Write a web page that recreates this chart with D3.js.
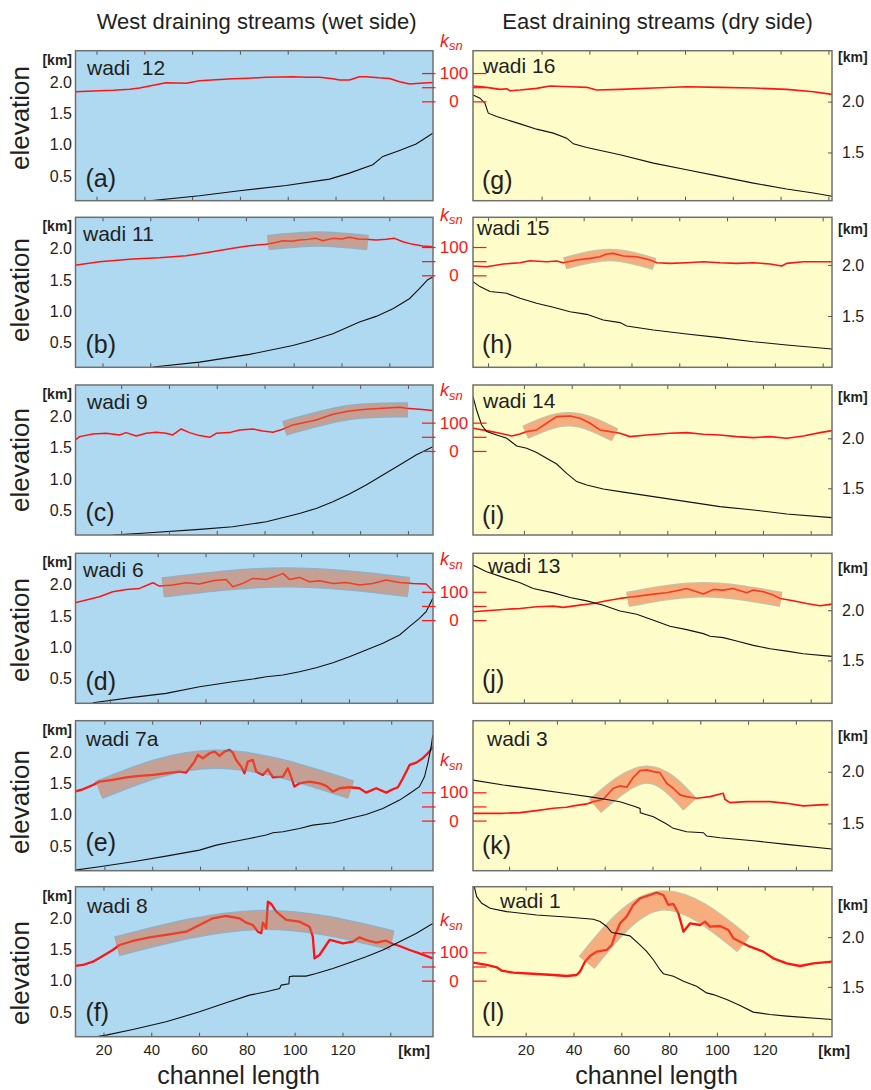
<!DOCTYPE html>
<html>
<head>
<meta charset="utf-8">
<script src="https://cdn.jsdelivr.net/npm/d3@7"></script>
<style>
  body { margin: 0; background: #fff; }
  text { font-family: "Liberation Sans", Arial, Helvetica, sans-serif; }
</style>
</head>
<body>
<svg id="chart" width="871" height="1090"></svg>
<script>
// ---- values: [channel length km, value] ----
var panelLetters = ["a", "b", "c", "d", "e", "f", "g", "h", "i", "j", "k", "l"];
var wadiNames = ["wadi  12", "wadi 11", "wadi 9", "wadi 6", "wadi 7a", "wadi 8",
                 "wadi 16", "wadi 15", "wadi 14", "wadi 13", "wadi 3", "wadi 1"];
var columnTitles = ["West draining streams (wet side)", "East draining streams (dry side)"];

// km at left edge of each panel
var kmStart = [11.2, 8.7, 0.9, 5.6, 7.9, 8.3, -8.7, -6.3, -1.3, -1.3, 4.9, -2.05];
var firstTick = [20, 20, 20, 20, 20, 20, 20, 0, 20, 20, 20, 20];
var xTicksLabelled = [20, 40, 60, 80, 100, 120];

var elevLeftDomain = [0.108, 2.5];
var elevRightDomain = [[1.026, 2.5], [0.997, 2.467], [1.033, 2.533], [1.073, 2.567], [1.042, 2.494], [1.0, 2.507]];
var elevLeftTicks = [0.5, 1.0, 1.5, 2.0];
var elevRightTicks = [1.5, 2.0];
var ksnTopByRow = [179, 205, 233, 236, 353, 332];
var ksnTicks = [0, 50, 100];
var ksnLabels = [0, 100];

// k_sn profiles (red)
var ksnA = [[11.2,34],[21.2,37.7],[27,39],[33.8,42.4],[38,47],[42.2,54],[49.1,66],[57.5,63.6],[63.1,73],[70,76],[77,80],[84,82],[91,84.8],[97,86],[102.1,87],[108,85],[113.3,84.8],[118.9,80],[121.7,75.4],[125.8,75.4],[130,87],[132.8,87],[138,83],[142.6,81],[146.8,69.5],[151,61],[155.1,63.6],[160.7,67]];
var ksnB = [[8.3,35.2],[18.7,48.2],[32.7,57.6],[43.8,62.3],[55,69.4],[63.4,80],[74.5,95.3],[81.5,104.7],[88.5,109.4],[92,115],[95.5,122.4],[99,120],[102.4,124.7],[106,127],[109.4,130.6],[112.2,122.4],[116.4,130.6],[120,128],[123.3,134.2],[127,128],[130.3,127.1],[134.5,124.7],[138.7,127.1],[142.2,130.6],[145.7,118.8],[149.8,109.4],[154,103.5],[158.2,101.2]];
var ksnC = [[0.9,38.9],[2.6,50.6],[8.2,60.1],[13.7,62.4],[19.3,56.5],[22.1,64.8],[26.3,53],[30.5,62.4],[34.7,66],[38.8,62.4],[41.6,56.5],[45.1,77.7],[48.6,64.8],[52.8,54.2],[57,48.3],[59.8,62.4],[65.3,64.8],[69.5,74.2],[75.1,77.7],[79.3,70.7],[83.5,66],[87.6,76.6],[91.8,91.9],[101.6,109.5],[108.6,129.6],[115.5,141.3],[122.5,147.2],[129.5,150.8],[136.5,154.3],[139.3,150.8],[144.8,147.2],[150.4,142.5]];
var ksnD = [[5.2,61.2],[10.1,70.7],[15.6,82.4],[21.2,100.1],[26.8,108.4],[32.4,111.9],[38,131.9],[40.7,120.1],[46.3,123.7],[51.9,131.9],[57.5,127.2],[63.1,139],[68.6,143.7],[71.4,117.8],[75.6,129.6],[79.8,147.2],[85.4,143.7],[89.6,155.5],[92.4,164.9],[95.1,143.7],[99.3,150.8],[103.5,135.5],[107.7,139],[113.3,129.6],[118.9,133.1],[124.4,123.7],[130,129.6],[135.6,141.3],[141.2,133.1],[146.7,129.6],[152.3,127.2],[155.1,103.7]];
var ksnE = [[7.5,102.5],[11,110.7],[15.2,126],[17.9,137.8],[23.5,143.7],[29.1,153.1],[34.7,157.8],[40.3,161.4],[45.8,167.3],[51.4,173.1],[54.2,169.6],[55.6,184.9],[57.7,208.5],[59.1,232],[61.2,220.3],[64,237.9],[66.1,243.8],[68.2,228.5],[70.2,243.8],[72.3,249.7],[73.7,240.3],[75.1,214.4],[77.2,190.8],[78.6,167.3],[80,208.5],[82.1,214.4],[83.5,173.1],[86.3,161.4],[88.4,181.4],[90.5,153.1],[94.7,155.5],[96.7,184.9],[98.1,155.5],[99.5,120.1],[101.6,131.9],[105.8,137.8],[110,131.9],[112.8,122.5],[115.6,102.5],[118.4,114.3],[122.5,117.8],[126.7,114.3],[129.5,98.9],[133.7,114.3],[137.9,98.9],[140.7,110.7],[142.8,117.8],[144.9,149.6],[147.7,196.7],[150.5,204.9],[153.2,220.3],[156,243.8],[157.4,261.5]];
var ksnF = [[7.9,51.8],[11.4,55.4],[15.6,67.1],[19.7,87.2],[23.9,108.4],[26.7,126],[32.3,140.2],[39.3,153.1],[46.2,161.4],[54.6,173.1],[60.2,196.7],[65.8,220.3],[71.3,228.5],[76.9,220.3],[79.7,205],[82.5,196.7],[84.6,173.1],[86,167.3],[86.7,205],[88.1,184.9],[88.8,279.2],[90.2,270.9],[92.3,243.8],[96.5,214.4],[102,208.5],[106.2,190.8],[107.6,155.5],[108.3,78.9],[110.4,90.7],[114.6,143.7],[116,141.3],[120.2,131.9],[124.3,137.8],[127.1,153.1],[129.9,143.7],[134.1,134.3],[138.3,141.3],[141.1,129.6],[143.9,122.5],[148.1,108.4],[152.2,96.6],[157.8,78.9]];
var ksnG = [[-8.7,54.2],[-3,49.5],[2.6,42.4],[5.4,44.8],[6.8,37.7],[11,40],[17.9,45.9],[23.5,54.2],[31.9,51.8],[38.9,49.5],[43,40],[52.8,42.4],[66.8,47.1],[80.7,51.8],[94.6,49.5],[108.6,47.1],[122.5,42.4],[133.7,34.2],[141.5,24.7]];
var ksnH = [[-6.3,32.9],[-0.6,30.5],[6.4,39.9],[13.4,44.6],[17.5,51.7],[24.5,48.2],[28.7,50.5],[31.5,44.6],[37.1,54.1],[42.7,60],[46.8,65.8],[49.6,75.3],[52.4,77.6],[56.6,68.2],[62.2,65.8],[67.8,54.1],[70.6,44.6],[76.1,42.3],[83.1,44.6],[90.1,48.2],[97,44.6],[104,42.3],[111,44.6],[118,39.9],[122.9,32.9],[124.9,42.3],[131.9,48.2],[138.9,48.2],[143.9,48.2]];
var ksnI = [[-1.3,80.1],[4.4,71.8],[10,62.4],[14.9,53],[18.4,60.1],[21.2,68.3],[25.3,74.2],[29.5,97.8],[33.7,121.3],[39.3,123.7],[43.5,115.4],[47.7,97.8],[51.8,74.2],[56,68.3],[60.2,62.4],[64.4,50.6],[71.4,56.5],[81.1,62.4],[88.1,64.8],[95.1,58.9],[102,56.5],[109,50.6],[116,47.1],[123,50.6],[130,44.8],[136.9,53],[143.9,64.8],[148.9,71.8]];
var ksnJ = [[-1.3,29.4],[4.4,33],[11.4,37.7],[18.4,41.2],[25.3,47.1],[32.3,49.5],[36.5,44.8],[43.5,53],[49,58.9],[54.6,68.3],[60.2,76.6],[65.8,82.4],[74.2,91.9],[79.7,96.6],[83.9,103.7],[88.1,111.9],[92.3,100.1],[95.1,91.9],[99.3,108.4],[103.4,106],[107.6,111.9],[113.2,96.6],[116,106],[120.2,100.1],[124.4,88.3],[127.2,76.6],[132.7,68.3],[138.3,58.9],[143.9,50.6],[148.9,56.5]];
var ksnK = [[3,25.9],[10.6,25.9],[17.6,25.9],[24.6,28.3],[31.5,35.3],[38.5,43.6],[44.1,47.1],[46.9,51.8],[52.5,58.9],[55.3,67.1],[59.4,75.4],[63.6,114.3],[66.4,122.5],[69.2,117.8],[72,153.1],[74.8,176.7],[77.6,179],[80.4,173.1],[83.1,169.6],[85.9,131.9],[88.7,114.3],[91.5,90.7],[94.3,84.8],[98.5,78.9],[104.1,84.8],[109.6,96.6],[110.3,75.4],[112.4,63.6],[119.4,67.1],[129.2,67.1],[136.1,61.2],[143.1,51.8],[150.1,55.4],[153.6,56.5]];
var ksnL = [[-2,63.6],[3.7,55.4],[7.9,47.1],[10,35.3],[14.8,28.3],[24.6,23.6],[31.6,20],[37.1,16.5],[41.3,20],[42.7,31.8],[44.8,67.1],[46.9,87.2],[49.7,102.5],[53.9,108.4],[56,126],[57.4,161.4],[59.5,202.6],[62.2,226.1],[65,267.4],[67.8,290.9],[72,302.7],[74.8,311],[77.6,302.7],[79.7,267.4],[81.8,270.9],[83.9,237.9],[86,173.1],[88.8,202.6],[93,196.7],[95,208.5],[97.1,190.8],[101.3,193.2],[104.8,179],[106.9,149.6],[109.7,137.8],[113.9,120.1],[119.4,102.5],[123.6,78.9],[129.2,61.2],[134.8,51.8],[140.4,61.2],[148.2,67.1]];

// elevation profiles (black), km
var elevA = [[42.2,0.106],[63.1,0.186],[79.8,0.266],[99.3,0.351],[117.5,0.452],[125.8,0.548],[135.6,0.681],[139.8,0.814],[146.8,0.91],[153.7,1.011],[156.5,1.08],[160.7,1.186]];
var elevB = [[41.1,0.112],[60.6,0.191],[81.5,0.314],[99.6,0.457],[106.6,0.527],[116.4,0.644],[127.5,0.83],[134.5,0.92],[141.5,1.043],[148.4,1.202],[152.6,1.362],[156.1,1.505],[158.2,1.548]];
var elevC = [[16.5,0.106],[31.9,0.144],[52.8,0.197],[66.7,0.239],[80.7,0.319],[94.6,0.452],[101.6,0.532],[108.6,0.638],[115.5,0.761],[122.5,0.904],[129.5,1.064],[136.5,1.223],[143.4,1.383],[150.4,1.516]];
var elevD = [[12.9,0.117],[29.6,0.202],[43.5,0.266],[57.5,0.372],[71.4,0.452],[79.8,0.495],[85.4,0.532],[92.4,0.559],[99.3,0.612],[106.3,0.676],[113.3,0.755],[120.2,0.851],[127.2,0.957],[134.2,1.064],[141.2,1.197],[145.3,1.33],[149.5,1.463],[152.3,1.569],[155.1,1.782]];
var elevE = [[7.5,0.117],[17.9,0.17],[31.9,0.25],[45.8,0.34],[59.8,0.436],[66.8,0.516],[73.7,0.569],[80.7,0.622],[87.7,0.676],[90.5,0.713],[94.7,0.729],[101.6,0.782],[107.2,0.835],[115.6,0.872],[122.5,0.941],[129.5,1.005],[136.5,1.101],[143.5,1.234],[147.7,1.34],[151.8,1.447],[153.9,1.606],[155.3,1.819],[156.7,2.085],[157.4,2.271]];
var elevF = [[16.9,0.106],[21.1,0.133],[32.3,0.223],[46.2,0.346],[60.2,0.505],[71.3,0.649],[81.1,0.771],[88.1,0.824],[93.7,0.878],[94.4,0.931],[97.6,0.95],[97.8,1.064],[99.2,1.074],[104.8,1.074],[109,1.117],[116,1.197],[122.9,1.287],[129.9,1.383],[136.9,1.489],[143.9,1.622],[150.8,1.755],[157.8,1.915]];
var elevG = [[-8.7,2.065],[-5.8,2.033],[-3.7,1.984],[-2.3,1.886],[1.2,1.853],[11,1.781],[17.9,1.729],[24.9,1.69],[30.5,1.641],[33.3,1.585],[38.9,1.549],[52.8,1.477],[66.8,1.395],[80.7,1.33],[94.6,1.265],[108.6,1.199],[122.5,1.141],[133.7,1.101],[141.5,1.069]];
var elevH = [[-6.3,1.837],[-3.4,1.788],[0.8,1.739],[7.8,1.722],[13.4,1.673],[20.3,1.624],[27.3,1.585],[34.3,1.542],[41.3,1.516],[48.2,1.461],[55.2,1.435],[58,1.402],[69.2,1.363],[83.1,1.324],[97,1.288],[111,1.248],[124.9,1.216],[143.9,1.176]];
var elevI = [[-1.3,2.417],[0.2,2.283],[2.3,2.133],[4.4,2.067],[8.6,2.033],[12.8,2],[17,1.923],[21.2,1.9],[25.3,1.857],[29.5,1.8],[33.7,1.743],[37.9,1.65],[42.1,1.567],[46.3,1.533],[53.2,1.493],[60.2,1.467],[74.2,1.417],[88.1,1.367],[102,1.317],[116,1.283],[130,1.243],[148.9,1.207]];
var elevJ = [[-1.3,2.45],[4.4,2.383],[11.4,2.327],[18.4,2.273],[23.9,2.217],[32.3,2.173],[39.3,2.127],[46.3,2.093],[53.2,2.05],[60.2,1.993],[67.2,1.96],[74.2,1.9],[81.1,1.84],[88.1,1.807],[95.1,1.767],[97.9,1.74],[103.4,1.727],[109,1.693],[116,1.65],[123,1.617],[130,1.593],[136.9,1.567],[148.9,1.54]];
var elevK = [[4.9,1.919],[17.6,1.871],[31.5,1.829],[45.5,1.784],[55.3,1.752],[60.8,1.732],[66.4,1.71],[72,1.668],[74.8,1.645],[74.9,1.603],[80.4,1.565],[85.9,1.494],[88.7,1.452],[94.3,1.419],[101.3,1.41],[102.7,1.377],[108.2,1.361],[122.2,1.332],[136.1,1.297],[155.1,1.252]];
var elevL = [[-1.5,2.507],[-0.5,2.407],[1.6,2.34],[5.1,2.29],[12,2.257],[24.6,2.223],[38.5,2.2],[48.3,2.18],[51.1,2.157],[53.9,2.107],[56,2.047],[59.5,2.033],[63.6,2.013],[67.8,1.923],[70.6,1.857],[73.4,1.773],[76.2,1.673],[77.6,1.633],[81.8,1.607],[86,1.557],[91.5,1.507],[95.7,1.44],[98.5,1.423],[104.1,1.373],[109.7,1.313],[115.2,1.247],[122.2,1.223],[129.2,1.207],[148.2,1.173]];

// shaded k_sn arcs: start, crest, end [km, ksn]
var bandB = [[89.2,115.3],[110.1,128.3],[131,115.3]];
var bandC = [[88.3,80],[115.5,136],[140,145]];
var bandD = [[42.1,115.4],[93.7,150.8],[145.1,116.6]];
var bandE = [[17.7,108.4],[66.8,216.7],[123.2,109.5]];
var bandF = [[25.6,121.3],[85.3,214.4],[140.8,142.5]];
var bandH = [[32.1,42.3],[51,71.7],[69.6,39.9]];
var bandI = [[20.6,66],[39.3,111.9],[58.1,56.5]];
var bandJ = [[63.4,73],[95.1,107.2],[127.6,73]];
var bandK = [[56,51.8],[77.6,162.5],[95.7,57.7]];
var bandL = [[45.5,63.6],[76.2,282.7],[111.1,128.4]];

var ksnSeries = [ksnA, ksnB, ksnC, ksnD, ksnE, ksnF, ksnG, ksnH, ksnI, ksnJ, ksnK, ksnL];
var elevSeries = [elevA, elevB, elevC, elevD, elevE, elevF, elevG, elevH, elevI, elevJ, elevK, elevL];
var bands = [null, bandB, bandC, bandD, bandE, bandF, null, bandH, bandI, bandJ, bandK, bandL];

// ---- layout / style ----
var svg = d3.select("#chart");
var textCol = "#231f20", red = "#ff1414";
var colX = [75.5, 473], colW = [357.5, 359];
var rowTop = [50.7, 217.3, 385, 553.3, 720.7, 886.7], PH = 150;
var KM_PX = 2.39, KSN_SPAN = 530;
var bgCol = ["#aed9f0", "#fefdca"];
var bandFill = ["#db683a", "#ee6033"];
var bandEdge = ["#6a8aa3", "#8a8a8a"];
var bandWidth = [0, 13, 13, 18, 17, 18, 0, 10, 12, 13, 16, 18];
var redWidth = [1.5, 1.5, 1.5, 1.5, 2.3, 2.3, 1.6, 1.6, 1.6, 1.6, 1.7, 2.3];
var wadiPos = [[11.5,24],[7.5,24],[11.5,24],[7.5,24],[10.5,25],[11.5,26],[10,22],[4,18],[10,23],[15,20],[14,25],[27,21]];
var letterBase = [13.5,14.5,14,13,20,16,11.5,14,11,15,17,16];
var kmRightBase = [11, 17, 17, 20, 20, 23];
var elevLabelY = [118, 290, 460, 630, 802, 973];

var defs = svg.append("defs");

ksnSeries.forEach(function(ksn, i) {
  var col = i < 6 ? 0 : 1, row = i % 6;
  var left = colX[col], w = colW[col], top = rowTop[row];

  var x = d3.scaleLinear().domain([kmStart[i], kmStart[i] + w / KM_PX]).range([left, left + w]);
  var yE = d3.scaleLinear().domain(col === 0 ? elevLeftDomain : elevRightDomain[row]).range([top + PH, top]);
  var yK = d3.scaleLinear().domain([ksnTopByRow[row] - KSN_SPAN, ksnTopByRow[row]]).range([top + PH, top]);

  defs.append("clipPath").attr("id", "clip" + i)
    .append("rect").attr("x", left).attr("y", top).attr("width", w).attr("height", PH);

  svg.append("rect").attr("x", left).attr("y", top).attr("width", w).attr("height", PH)
    .attr("fill", bgCol[col]);

  var g = svg.append("g").attr("clip-path", "url(#clip" + i + ")");

  g.append("path").datum(ksn)
    .attr("d", d3.line().x(function(d) { return x(d[0]); }).y(function(d) { return yK(d[1]); }))
    .attr("fill", "none").attr("stroke", red).attr("stroke-width", redWidth[i])
    .attr("stroke-linejoin", "round");

  if (bands[i]) {
    var bl = d3.line().curve(d3.curveNatural)
      .x(function(d) { return x(d[0]); }).y(function(d) { return yK(d[1]); });
    var bg = g.append("g").attr("opacity", 0.5);
    bg.append("path").attr("d", bl(bands[i])).attr("fill", "none")
      .attr("stroke", bandEdge[col]).attr("stroke-width", bandWidth[i] + 2.4);
    bg.append("path").attr("d", bl(bands[i])).attr("fill", "none")
      .attr("stroke", bandFill[col]).attr("stroke-width", bandWidth[i]);
  }

  g.append("path").datum(elevSeries[i])
    .attr("d", d3.line().x(function(d) { return x(d[0]); }).y(function(d) { return yE(d[1]); }))
    .attr("fill", "none").attr("stroke", "#111").attr("stroke-width", 1.1);

  // x ticks, inward on both edges
  var tv = d3.range(firstTick[i], 141, 20);
  svg.append("g").attr("transform", "translate(0," + (top + PH) + ")")
    .call(d3.axisBottom(x).tickValues(tv).tickSize(-4).tickFormat(""))
    .call(function(s) { s.select(".domain").remove(); s.selectAll("line").attr("stroke", "#555"); });
  svg.append("g").attr("transform", "translate(0," + top + ")")
    .call(d3.axisTop(x).tickValues(tv).tickSize(-4).tickFormat(""))
    .call(function(s) { s.select(".domain").remove(); s.selectAll("line").attr("stroke", "#555"); });

  svg.append("rect").attr("x", left).attr("y", top).attr("width", w).attr("height", PH)
    .attr("fill", "none").attr("stroke", "#707070").attr("stroke-width", 1.5);

  // elevation axis
  if (col === 0) {
    svg.append("g").attr("transform", "translate(75,0)")
      .call(d3.axisLeft(yE).tickValues(elevLeftTicks).tickSize(0).tickPadding(3).tickFormat(d3.format(".1f")))
      .call(function(s) {
        s.select(".domain").remove();
        s.selectAll("text").attr("font-size", 16).attr("fill", textCol).style("font-family", "Liberation Sans, Arial, sans-serif");
      });
    svg.append("text").attr("x", 72).attr("y", top + 14).attr("text-anchor", "end")
      .attr("font-size", 14).attr("font-weight", "bold").attr("fill", textCol).text("[km]");
    svg.append("text").attr("transform", "translate(29," + elevLabelY[row] + ") rotate(-90)")
      .attr("text-anchor", "middle").attr("font-size", 26).attr("fill", textCol).text("elevation");
  } else {
    svg.append("g").attr("transform", "translate(" + (left + w) + ",0)")
      .call(d3.axisRight(yE).tickValues(elevRightTicks).tickSize(-4).tickPadding(10).tickFormat(d3.format(".1f")))
      .call(function(s) {
        s.select(".domain").remove();
        s.selectAll("line").attr("stroke", "#555");
        s.selectAll("text").attr("font-size", 16).attr("fill", textCol).style("font-family", "Liberation Sans, Arial, sans-serif");
      });
    svg.append("text").attr("x", 838).attr("y", top + kmRightBase[row])
      .attr("font-size", 14).attr("font-weight", "bold").attr("fill", textCol).text("[km]");

    // k_sn axis between the two columns (shared by the row)
    [422, 473].forEach(function(tx) {
      svg.append("g").attr("transform", "translate(" + tx + ",0)")
        .call(d3.axisRight(yK).tickValues(ksnTicks).tickSize(13.5).tickFormat(""))
        .call(function(s) { s.select(".domain").remove(); s.selectAll("line").attr("stroke", red).attr("stroke-width", 1.2); });
    });
    svg.selectAll(null).data(ksnLabels).enter().append("text")
      .attr("x", 454).attr("y", function(d) { return yK(d); }).attr("dy", "0.36em")
      .attr("text-anchor", "middle").attr("font-size", 17).attr("fill", red)
      .text(function(d) { return d; });
    var kl = svg.append("text").attr("x", 440).attr("y", yK(0) - 54.6)
      .attr("font-size", 18).attr("font-style", "italic").attr("fill", red);
    kl.append("tspan").text("k");
    kl.append("tspan").attr("font-size", 13).attr("dy", 3.5).text("sn");
  }

  svg.append("text").attr("x", left + wadiPos[i][0]).attr("y", top + wadiPos[i][1])
    .attr("font-size", 21).attr("fill", textCol).style("white-space", "pre").text(wadiNames[i]);
  svg.append("text").attr("x", left + (col === 0 ? 10 : 9)).attr("y", top + PH - letterBase[i])
    .attr("font-size", 25).attr("fill", textCol).text("(" + panelLetters[i] + ")");

  if (row === 5) {
    svg.append("g").attr("transform", "translate(0," + (top + PH) + ")")
      .call(d3.axisBottom(x).tickValues(xTicksLabelled).tickSize(0).tickPadding(8))
      .call(function(s) {
        s.select(".domain").remove();
        s.selectAll("text").attr("font-size", 15).attr("fill", textCol).style("font-family", "Liberation Sans, Arial, sans-serif");
      });
    svg.append("text").attr("x", col === 0 ? 430 : 850).attr("y", 1056).attr("text-anchor", "end")
      .attr("font-size", 15).attr("font-weight", "bold").attr("fill", textCol).text("[km]");
    svg.append("text").attr("x", col === 0 ? 238.5 : 656.5).attr("y", 1084).attr("text-anchor", "middle")
      .attr("font-size", 25).attr("fill", textCol).text("channel length");
  }
});

columnTitles.forEach(function(t, c) {
  svg.append("text").attr("x", c === 0 ? 256.7 : 657.5).attr("y", 28.5).attr("text-anchor", "middle")
    .attr("font-size", 22).attr("fill", textCol).text(t);
});
</script>
</body>
</html>
